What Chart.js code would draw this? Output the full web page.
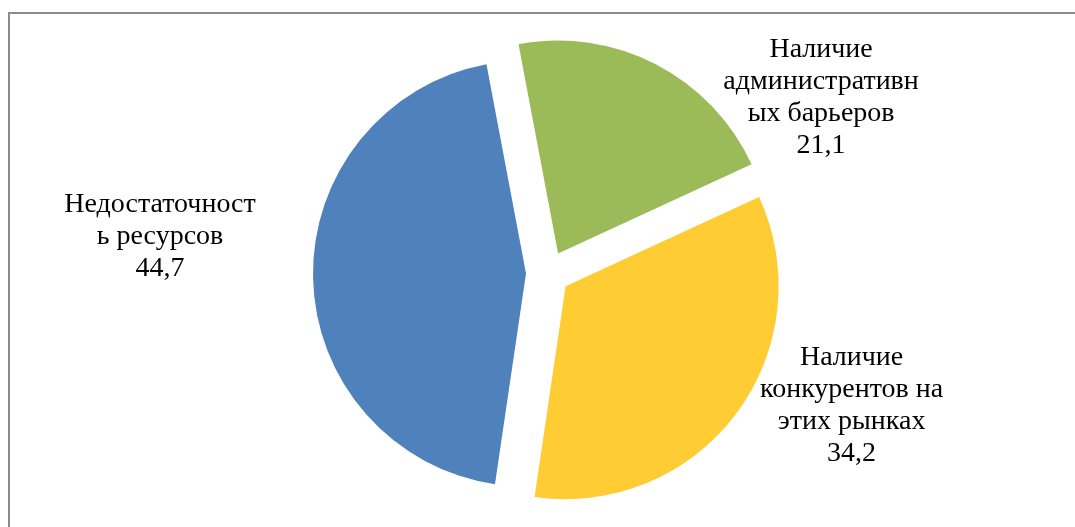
<!DOCTYPE html>
<html lang="ru">
<head>
<meta charset="UTF-8">
<title>Проблемы выхода на новые рынки</title>
<script src="https://cdn.jsdelivr.net/npm/chart.js"></script>
<style>
    body {
        margin: 0;
        background: #fff;
        overflow: hidden;
    }
    .frame {
        position: absolute;
        left: 8px;
        top: 12px;
        right: -10px;
        bottom: -10px;
        border-left: 2px solid #8c8c8c;
        border-top: 2px solid #8c8c8c;
    }
    #chart {
        position: absolute;
        left: 0;
        top: 0;
    }
</style>
</head>
<body>

<div class="frame"></div>
<canvas id="chart" width="1075" height="527"></canvas>

<script>
    const categories = [
        'Наличие административных барьеров',
        'Наличие конкурентов на этих рынках',
        'Недостаточность ресурсов'
    ];
    const shares = [21.1, 34.2, 44.7];
    const sliceColors = ['#9BBB59', '#FFCC33', '#4F81BD'];

    const EXPLODE = 22;          // how far each slice is pulled out
    const LABEL_FONT = '28px "Liberation Serif", "Times New Roman", serif';
    const LINE_H = 32;
    const WRAP_W = 198;
    // first baseline of every label, relative to its slice centre
    const labelShift = [[263, -196], [286, 79], [-366, -61]];

    // pull the slices apart along their middle angle
    const explode = {
        id: 'explode',
        afterDatasetsUpdate(chart) {
            chart.getDatasetMeta(0).data.forEach(arc => {
                let mid = (arc.startAngle + arc.endAngle) / 2;
                arc.x += Math.cos(mid) * EXPLODE;
                arc.y += Math.sin(mid) * EXPLODE;
            });
        }
    };

    function wrap(ctx, text, maxW) {
        let lines = [];
        let line = '';
        for (let word of text.split(' ')) {
            let w = line ? line + ' ' + word : word;
            if (ctx.measureText(w).width <= maxW) { line = w; continue; }
            if (line) { lines.push(line); line = ''; }
            // word too long for the box: break it by letters
            let part = '';
            for (let ch of word) {
                if (part && ctx.measureText(part + ch).width > maxW) {
                    lines.push(part);
                    part = ch;
                } else {
                    part += ch;
                }
            }
            line = part;
        }
        if (line) lines.push(line);
        return lines;
    }

    const sliceLabels = {
        id: 'sliceLabels',
        afterDatasetsDraw(chart) {
            let ctx = chart.ctx;
            ctx.save();
            ctx.font = LABEL_FONT;
            ctx.fillStyle = '#000';
            ctx.textAlign = 'center';
            ctx.textBaseline = 'alphabetic';
            chart.getDatasetMeta(0).data.forEach((arc, i) => {
                let lines = wrap(ctx, chart.data.labels[i], WRAP_W);
                lines.push(String(chart.data.datasets[0].data[i]).replace('.', ','));
                let x = arc.x + labelShift[i][0];
                let y = arc.y + labelShift[i][1];
                lines.forEach((t, k) => ctx.fillText(t, x, y + k * LINE_H));
            });
            ctx.restore();
        }
    };

    new Chart(document.getElementById('chart'), {
        type: 'pie',
        data: {
            labels: categories,
            datasets: [{
                data: shares,
                backgroundColor: sliceColors,
                borderWidth: 0
            }]
        },
        options: {
            responsive: false,
            animation: false,
            rotation: -10.7,
            radius: 213,
            layout: { padding: { left: 21, top: 19, right: 0, bottom: 0 } },
            plugins: {
                legend: { display: false },
                tooltip: { enabled: false }
            }
        },
        plugins: [explode, sliceLabels]
    });
</script>

</body>
</html>
